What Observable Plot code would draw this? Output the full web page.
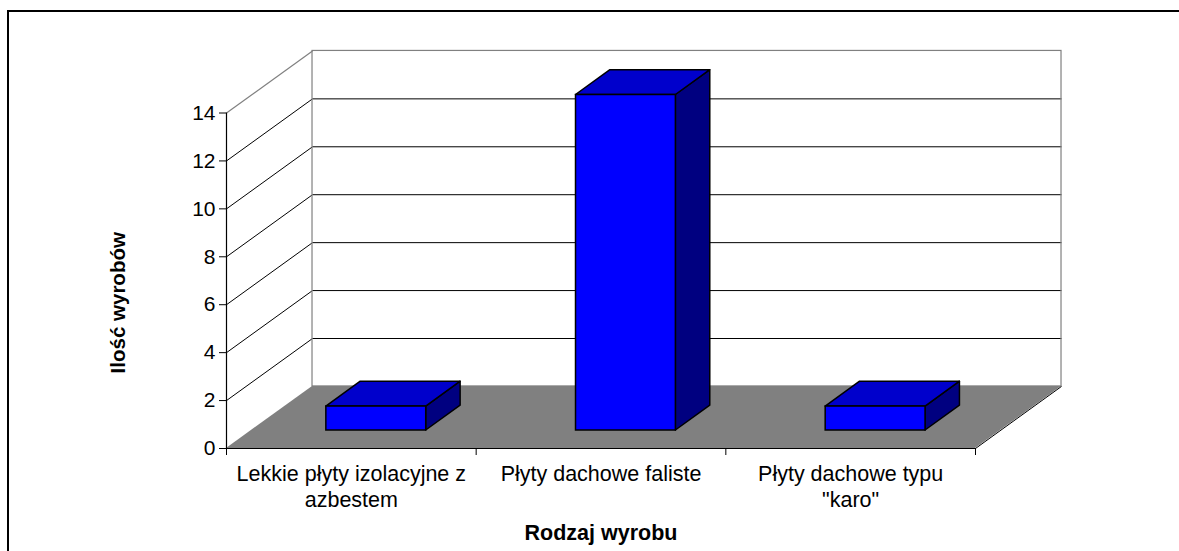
<!DOCTYPE html>
<html>
<head>
<meta charset="utf-8">
<script src="https://cdn.jsdelivr.net/npm/d3@7"></script>
<script src="https://cdn.jsdelivr.net/npm/@observablehq/plot@0.6"></script>
<style>
  html, body { margin: 0; padding: 0; background: #fff; overflow: hidden; }
  #wrap { position: relative; width: 1179px; height: 551px; }
  #border { position: absolute; left: 7px; top: 10px; width: 2000px; height: 2000px;
            border-left: 2px solid #000; border-top: 2px solid #000; box-sizing: border-box; }
  #chart { position: absolute; left: 0; top: 0; }
  #chart svg { overflow: visible; }
</style>
</head>
<body>
<div id="wrap"><div id="border"></div><div id="chart"></div></div>
<script>
// ---- data ----
const categories = ["Lekkie płyty izolacyjne z azbestem", "Płyty dachowe faliste", "Płyty dachowe typu \"karo\""];
const categoryLabels = ["Lekkie płyty izolacyjne z\nazbestem", "Płyty dachowe faliste", "Płyty dachowe typu\n\"karo\""];
const values = [1, 14, 1];
const yTicks = [0, 2, 4, 6, 8, 10, 12, 14];
const xTitle = "Rodzaj wyrobu";
const yTitle = "Ilość wyrobów";

// ---- 3D geometry (in scale units) ----
const N = categories.length;
const yMax = yTicks[yTicks.length - 1];
const DX = 0.3445;   // depth offset in category units
const DY = 2.59;     // depth offset in value units
const f0 = 0.29, f1 = 0.69; // bar depth range (fraction of depth)
const halfW = 0.2;

const bars = categories.map((c, i) => ({i, c, v: values[i], left: i + 0.5 - halfW, right: i + 0.5 + halfW}));
const topFaces = bars.flatMap(b => [
  {i: b.i, y: b.v + f0 * DY, x1: b.left + f0 * DX, x2: b.right + f0 * DX},
  {i: b.i, y: b.v + f1 * DY, x1: b.left + f1 * DX, x2: b.right + f1 * DX}
]);
const sideFaces = bars.flatMap(b => [
  {i: b.i, x: b.right + f0 * DX, y1: f0 * DY, y2: b.v + f0 * DY},
  {i: b.i, x: b.right + f1 * DX, y1: f1 * DY, y2: b.v + f1 * DY}
]);
const floor = [{y: 0, x1: 0, x2: N}, {y: DY, x1: DX, x2: N + DX}];
const gridInner = yTicks.filter(t => t > 0 && t < yMax);
const diagTicks = yTicks.filter(t => t > 0 && t < yMax);

const chart = Plot.plot({
  width: 1179,
  height: 551,
  marginLeft: 226,
  marginRight: 204,
  marginTop: 112.5,
  marginBottom: 103,
  x: {type: "linear", domain: [0, N], axis: null},
  y: {domain: [0, yMax], axis: null},
  style: {fontFamily: "'Liberation Sans', Arial, sans-serif", fontSize: "20px", color: "#000", background: "transparent"},
  marks: [
    // floor
    Plot.areaX(floor, {y: "y", x1: "x1", x2: "x2", fill: "#808080", curve: "linear"}),
    // back wall gridlines
    Plot.link(gridInner, {x1: DX, x2: N + DX, y1: d => d + DY, y2: d => d + DY, stroke: "#000", strokeWidth: 1}),
    // left wall diagonals
    Plot.link(diagTicks, {x1: 0, y1: d => d, x2: DX, y2: d => d + DY, stroke: "#000", strokeWidth: 1}),
    // wall outlines (gray)
    Plot.rect([0], {x1: DX, x2: N + DX, y1: DY, y2: yMax + DY, stroke: "#808080", strokeWidth: 1.2, fill: "none"}),
    Plot.link([yMax], {x1: 0, y1: d => d, x2: DX, y2: d => d + DY, stroke: "#808080", strokeWidth: 1.2}),
    // floor right edge
    Plot.link([0], {x1: N, y1: 0, x2: N + DX, y2: DY, stroke: "#000", strokeWidth: 1}),
    // front axes lines
    Plot.ruleX([0], {y1: 0, y2: yMax, stroke: "#000", strokeWidth: 1.2}),
    Plot.ruleY([0], {x1: 0, x2: N, stroke: "#000", strokeWidth: 1.2}),
    // bars: side, top, front
    Plot.areaY(sideFaces, {x: "x", y1: "y1", y2: "y2", z: "i", fill: "#000080", stroke: "#000", strokeWidth: 1.5, curve: "linear"}),
    Plot.areaX(topFaces, {y: "y", x1: "x1", x2: "x2", z: "i", fill: "#0000CC", stroke: "#000", strokeWidth: 1.5, curve: "linear"}),
    Plot.rect(bars, {x1: d => d.left + f0 * DX, x2: d => d.right + f0 * DX, y1: f0 * DY, y2: d => d.v + f0 * DY, fill: "#0000FF", stroke: "#000", strokeWidth: 1.5}),
    // axes
    Plot.axisY(yTicks, {anchor: "left", tickSize: 7, tickPadding: 4, label: null, fontSize: 21}),
    Plot.axisX(d3.range(N + 1), {anchor: "bottom", tickSize: 7, tickFormat: () => "", label: null}),
    Plot.axisX(d3.range(N).map(i => i + 0.5), {anchor: "bottom", tickSize: 0, tickPadding: 13, lineHeight: 1.25, fontSize: 21.5,
      tickFormat: d => categoryLabels[Math.floor(d)], label: null}),
    // titles
    Plot.text([xTitle], {text: d => d, frameAnchor: "bottom", dy: 85, lineAnchor: "middle", textAnchor: "middle", fontWeight: "bold", fontSize: 21.5}),
    Plot.text([yTitle], {text: d => d, frameAnchor: "left", dx: -108, dy: 22, rotate: -90, lineAnchor: "middle", textAnchor: "middle", fontWeight: "bold", fontSize: 20.5})
  ]
});
document.getElementById("chart").appendChild(chart);
</script>
</body>
</html>
